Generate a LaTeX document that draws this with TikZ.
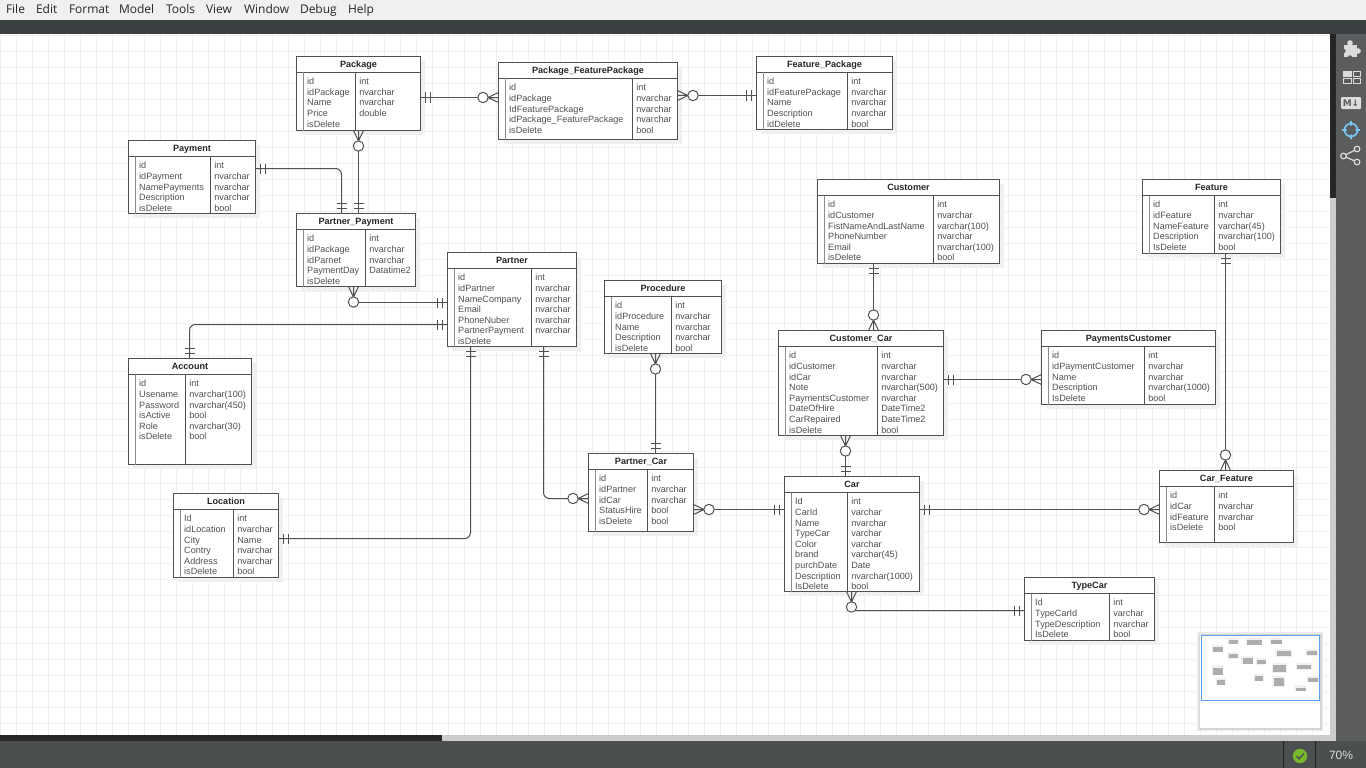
\documentclass[tikz,border=0pt]{standalone}
\usepackage{fontspec}
\setmainfont{Liberation Sans}
\newfontfamily\uifont{Open Sans}
\newfontfamily\djfont{DejaVu Sans}
\definecolor{inkc}{HTML}{505050}
\definecolor{tabtxt}{HTML}{505050}
\definecolor{gridc}{HTML}{F0F0F0}
\definecolor{iconc}{HTML}{DCDCDC}
\definecolor{sidec}{HTML}{5A5C5D}
\definecolor{statc}{HTML}{4C4F50}
\definecolor{topc}{HTML}{3A4042}
\definecolor{aimc}{HTML}{7CC8F5}
\definecolor{viewc}{HTML}{5AA0F0}
\definecolor{okc}{HTML}{7AB82E}
\tikzset{
  enttab/.style={draw=inkc,line width=1pt,fill=white,inner sep=0,outer sep=0,anchor=north west},
  rowtxt/.style={inner sep=0,outer sep=0,anchor=base west,text=tabtxt,font=\fontsize{9.1}{10.6}\selectfont},
  headtxt/.style={inner sep=0,outer sep=0,anchor=base,text=black!85,font=\fontsize{9.1}{10.6}\selectfont\bfseries},
  menutxt/.style={inner sep=0,outer sep=0,anchor=base west,text=black!85,font=\uifont\fontsize{12}{14}\selectfont},
  conn/.style={draw=inkc,line width=1pt},
  pics/onebar/.style={code={
    \draw[conn] (5,-5) -- (5,5) (10,-5) -- (10,5);
  }},
  pics/crowfoot/.style={code={
    \draw[conn] (0,-5) -- (10.5,0) -- (0,5) (0,0) -- (10.5,0);
    \draw[conn,fill=white] (15.5,0) circle (5.2);
  }},
}
% name x0 y0 x1 y1 xdiv title fields types
\newcommand\erent[9]{%
  \pgfmathsetmacro\entw{#4-#2}\pgfmathsetmacro\enth{#5-#3}%
  \pgfmathsetmacro\enthb{#3+16}\pgfmathsetmacro\entxa{#2+10.7}\pgfmathsetmacro\entxb{#6+3.8}%
  \pgfmathsetmacro\entxs{#2+7}\pgfmathsetmacro\entxc{(#2+#4)/2}\pgfmathsetmacro\entyt{#3+11}%
  \fill[black!6] ({#2+4},{#3+4}) rectangle ({#4+4},{#5+4});
  \node[enttab,minimum width=\entw pt,minimum height=\enth pt] (#1) at (#2,#3) {};
  \draw[draw=inkc,line width=1pt] (#2,\enthb) -- (#4,\enthb);
  \draw[draw=black!45,line width=1.8pt] (\entxs,\enthb) -- (\entxs,#5);
  \draw[draw=inkc,line width=1pt] (#6,\enthb) -- (#6,#5);
  \node[headtxt] (#1-h) at (\entxc,\entyt) {#7};
  \foreach \rowt [count=\rowi] in {#8} {
    \node[rowtxt] (#1-f\rowi) at ({\entxa},{\enthb+12.3+10.6*(\rowi-1)}) {\rowt};
  }
  \foreach \rowt [count=\rowi] in {#9} {
    \node[rowtxt] (#1-t\rowi) at ({\entxb},{\enthb+12.3+10.6*(\rowi-1)}) {\rowt};
  }
}
\begin{document}
\begin{tikzpicture}[x=1pt,y=-1pt]
\useasboundingbox (0,0) rectangle (1366,768);
% ---- canvas and grid
\fill[white] (0,0) rectangle (1366,768);
\foreach \gx in {0.5,16.5,...,1328} \draw[gridc,line width=1pt] (\gx,34) -- (\gx,735);
\foreach \gy in {35.5,51.5,...,731} \draw[gridc,line width=1pt] (0,\gy) -- (1330,\gy);
% ---- window chrome
\fill[gridc] (0,0) rectangle (1366,20);
\fill[topc] (0,20) rectangle (1366,34);
\fill[sidec] (1336,34) rectangle (1366,741);
\fill[black!85] (1330,34) rectangle (1336,198);
\fill[black!20] (1330,198) rectangle (1336,741);
\fill[black!20] (442,735) rectangle (1336,741);
\fill[black!85] (0,735) rectangle (442,741);
\fill[statc] (0,741) rectangle (1366,768);
\draw[black!60!statc,line width=0.8pt] (1283,741) -- (1283,768) (1315,741) -- (1315,768);
% ---- menu
\node[menutxt] (mfile) at (6,14) {File};
\node[menutxt] (medit) at (36,14) {Edit};
\node[menutxt] (mformat) at (69,14) {Format};
\node[menutxt] (mmodel) at (119,14) {Model};
\node[menutxt] (mtools) at (166,14) {Tools};
\node[menutxt] (mview) at (206,14) {View};
\node[menutxt] (mwindow) at (244,14) {Window};
\node[menutxt] (mdebug) at (300,14) {Debug};
\node[menutxt] (mhelp) at (348,14) {Help};
% ---- tables
\erent{pkg}{296.5}{56.5}{420.5}{130.5}{355.5}{Package}{id,idPackage,Name,Price,isDelete}{int,nvarchar,nvarchar,double}
\erent{pfp}{498.5}{62.5}{677.5}{139.5}{632.5}{Package\_FeaturePackage}{id,idPackage,IdFeaturePackage,idPackage\_FeaturePackage,isDelete}{int,nvarchar,nvarchar,nvarchar,bool}
\erent{fp}{756.5}{56.5}{892.5}{129.5}{847.5}{Feature\_Package}{id,idFeaturePackage,Name,Description,idDelete}{int,nvarchar,nvarchar,nvarchar,bool}
\erent{pay}{128.5}{140.5}{255.5}{213.5}{210.5}{Payment}{id,idPayment,NamePayments,Description,isDelete}{int,nvarchar,nvarchar,nvarchar,bool}
\erent{pp}{296.5}{213.5}{415.5}{286.5}{365.5}{Partner\_Payment}{id,idPackage,idParnet,PaymentDay,isDelete}{int,nvarchar,nvarchar,Datatime2}
\erent{cust}{817.5}{179.5}{999.5}{263.5}{933.5}{Customer}{id,idCustomer,FistNameAndLastName,PhoneNumber,Email,isDelete}{int,nvarchar,varchar(100),nvarchar,nvarchar(100),bool}
\erent{feat}{1142.5}{179.5}{1280.5}{253.5}{1214.5}{Feature}{id,idFeature,NameFeature,Description,IsDelete}{int,nvarchar,varchar(45),nvarchar(100),bool}
\erent{par}{447.5}{252.5}{576.5}{346.5}{531.5}{Partner}{id,idPartner,NameCompany,Email,PhoneNuber,PartnerPayment,isDelete}{int,nvarchar,nvarchar,nvarchar,nvarchar,nvarchar}
\erent{proc}{604.5}{280.5}{721.5}{353.5}{671.5}{Procedure}{id,idProcedure,Name,Description,isDelete}{int,nvarchar,nvarchar,nvarchar,bool}
\erent{cc}{778.5}{330.5}{943.5}{435.5}{877.5}{Customer\_Car}{id,idCustomer,idCar,Note,PaymentsCustomer,DateOfHire,CarRepaired,isDelete}{int,nvarchar,nvarchar,nvarchar(500),nvarchar,DateTime2,DateTime2,bool}
\erent{pc}{1041.5}{330.5}{1215.5}{404.5}{1144.5}{PaymentsCustomer}{id,idPaymentCustomer,Name,Description,IsDelete}{int,nvarchar,nvarchar,nvarchar(1000),bool}
\erent{acc}{128.5}{358.5}{251.5}{464.5}{185.5}{Account}{id,Usename,Password,isActive,Role,isDelete}{int,nvarchar(100),nvarchar(450),bool,nvarchar(30),bool}
\erent{loc}{173.5}{493.5}{278.5}{577.5}{233.5}{Location}{Id,idLocation,City,Contry,Address,isDelete}{int,nvarchar,Name,nvarchar,nvarchar,bool}
\erent{pcar}{588.5}{453.5}{693.5}{531.5}{647.5}{Partner\_Car}{id,idPartner,idCar,StatusHire,isDelete}{int,nvarchar,nvarchar,bool,bool}
\erent{car}{784.5}{476.5}{919.5}{591.5}{847.5}{Car}{Id,CarId,Name,TypeCar,Color,brand,purchDate,Description,IsDelete}{int,varchar,nvarchar,varchar,varchar,varchar(45),Date,nvarchar(1000),bool}
\erent{cf}{1159.5}{470.5}{1293.5}{542.5}{1214.5}{Car\_Feature}{id,idCar,idFeature,isDelete}{int,nvarchar,nvarchar,bool}
\erent{tc}{1024.5}{577.5}{1154.5}{640.5}{1109.5}{TypeCar}{Id,TypeCarId,TypeDescription,IsDelete}{int,varchar,nvarchar,bool}
% ---- connectors
\draw[conn] (pkg.east |- 0,97.5) -- (pfp.west |- 0,97.5);
\draw[conn] (pfp.east |- 0,95.5) -- (fp.west |- 0,95.5);
\draw[conn] (pkg.south -| 358.5,0) -- (pp.north -| 358.5,0);
\draw[conn,rounded corners=6] (pay.east |- 0,168.5) -| (pp.north -| 341.5,0);
\draw[conn] (pp.south -| 353.5,0) |- (par.west |- 0,302.5);
\draw[conn,rounded corners=6] (acc.north -| 189.5,0) |- (par.west |- 0,324.5);
\draw[conn,rounded corners=6] (loc.east |- 0,538.5) -| (par.south -| 470.5,0);
\draw[conn,rounded corners=6] (par.south -| 543.5,0) |- (pcar.west |- 0,498.5);
\draw[conn] (proc.south -| 655.5,0) -- (pcar.north -| 655.5,0);
\draw[conn] (pcar.east |- 0,509.5) -- (car.west |- 0,509.5);
\draw[conn] (cust.south -| 873.5,0) -- (cc.north -| 873.5,0);
\draw[conn] (cc.south -| 845.5,0) -- (car.north -| 845.5,0);
\draw[conn] (cc.east |- 0,379.5) -- (pc.west |- 0,379.5);
\draw[conn] (feat.south -| 1225.5,0) -- (cf.north -| 1225.5,0);
\draw[conn] (car.east |- 0,509.5) -- (cf.west |- 0,509.5);
\draw[conn,rounded corners=4] (car.south -| 851.5,0) |- (tc.west |- 0,610.5);
% ---- connector ends
\path (pkg.east |- 0,97.5) pic {onebar};
\path (pfp.west |- 0,97.5) pic[rotate=180] {crowfoot};
\path (pfp.east |- 0,95.5) pic {crowfoot};
\path (fp.west |- 0,95.5) pic[rotate=180] {onebar};
\path (pkg.south -| 358.5,0) pic[rotate=-90] {crowfoot};
\path (pp.north -| 358.5,0) pic[rotate=90] {onebar};
\path (pay.east |- 0,168.5) pic {onebar};
\path (pp.north -| 341.5,0) pic[rotate=90] {onebar};
\path (pp.south -| 353.5,0) pic[rotate=-90] {crowfoot};
\path (par.west |- 0,302.5) pic[rotate=180] {onebar};
\path (acc.north -| 189.5,0) pic[rotate=90] {onebar};
\path (par.west |- 0,324.5) pic[rotate=180] {onebar};
\path (loc.east |- 0,538.5) pic {onebar};
\path (par.south -| 470.5,0) pic[rotate=-90] {onebar};
\path (par.south -| 543.5,0) pic[rotate=-90] {onebar};
\path (pcar.west |- 0,498.5) pic[rotate=180] {crowfoot};
\path (proc.south -| 655.5,0) pic[rotate=-90] {crowfoot};
\path (pcar.north -| 655.5,0) pic[rotate=90] {onebar};
\path (pcar.east |- 0,509.5) pic {crowfoot};
\path (car.west |- 0,509.5) pic[rotate=180] {onebar};
\path (cust.south -| 873.5,0) pic[rotate=-90] {onebar};
\path (cc.north -| 873.5,0) pic[rotate=90] {crowfoot};
\path (cc.south -| 845.5,0) pic[rotate=-90] {crowfoot};
\path (car.north -| 845.5,0) pic[rotate=90] {onebar};
\path (cc.east |- 0,379.5) pic {onebar};
\path (pc.west |- 0,379.5) pic[rotate=180] {crowfoot};
\path (feat.south -| 1225.5,0) pic[rotate=-90] {onebar};
\path (cf.north -| 1225.5,0) pic[rotate=90] {crowfoot};
\path (car.east |- 0,509.5) pic {onebar};
\path (cf.west |- 0,509.5) pic[rotate=180] {crowfoot};
\path (car.south -| 851.5,0) pic[rotate=-90] {crowfoot};
\path (tc.west |- 0,610.5) pic[rotate=180] {onebar};
% ---- side icons
\fill[iconc] (1344,45) rectangle (1357,57);
\fill[iconc] (1350,43) circle (2.8);
\fill[iconc] (1358,51) circle (2.8);
\fill[sidec] (1343.5,51) circle (2.2);
\fill[sidec] (1350,57.5) circle (2.2);
\fill[iconc] (1343.5,71) rectangle (1351,76.5);
\draw[iconc,line width=0.9pt] (1343.5,71) rectangle (1351,76.5) (1353,71) rectangle (1360,76.5)
  (1343.5,78) rectangle (1351,83) (1353,78) rectangle (1360,83);
\fill[iconc,rounded corners=1] (1341,97) rectangle (1361,109);
\node[inner sep=0,anchor=center,text=sidec,font=\djfont\fontsize{9}{10}\selectfont\bfseries] (mdown) at (1351,103) {M↓};
\draw[aimc,line width=1.6pt] (1351,130) circle (6.5)
  (1351,121) -- (1351,125.5) (1351,134.5) -- (1351,139) (1342,130) -- (1346.5,130) (1355.5,130) -- (1360,130);
\draw[iconc,line width=1.2pt] (1343.5,156) -- (1357,149) (1343.5,156) -- (1357,162);
\draw[iconc,line width=1.2pt,fill=sidec] (1357,149) circle (2.8) (1343.5,156) circle (2.8) (1357,162) circle (2.8);
% ---- minimap
\fill[black!8] (1197,632) rectangle (1323,731);
\fill[black!16] (1198.5,633.5) rectangle (1321.5,729.5);
\fill[white] (1200,635) rectangle (1320,728);
\foreach \ma/\mb/\mc/\md in {297/56/420/130,499/62/677/139,757/56/892/130,129/140/255/214,297/213/415/287,818/180/999/264,1143/180/1280/254,448/252/577/347,605/280/721/354,779/331/944/436,1042/331/1215/404,129/358/251/464,174/493/278/577,588/454/694/531,784/476/919/592,1160/471/1293/543,1025/577/1154/640}{
  \fill[black!6] ({1200+0.092*\ma},{632.4+0.092*\mb}) rectangle ({1200+0.092*\mc},{632.4+0.092*\md});
  \fill[black!32] ({1200+0.092*(\ma+15)},{632.4+0.092*(\mb+24)}) rectangle ({1200+0.092*\mc-0.5},{632.4+0.092*\md-0.5});
}
\draw[viewc,line width=1pt] (1201,635.5) rectangle (1319.5,700.5);
% ---- status
\fill[okc] (1300,756) circle (7.2);
\draw[statc,line width=1.5pt] (1296.5,756) -- (1299,758.8) -- (1304,753.5);
\node[inner sep=0,anchor=center,text=iconc,font=\fontsize{12}{14}\selectfont] (zoomlbl) at (1341,755.5) {70\%};
\end{tikzpicture}
\end{document}
